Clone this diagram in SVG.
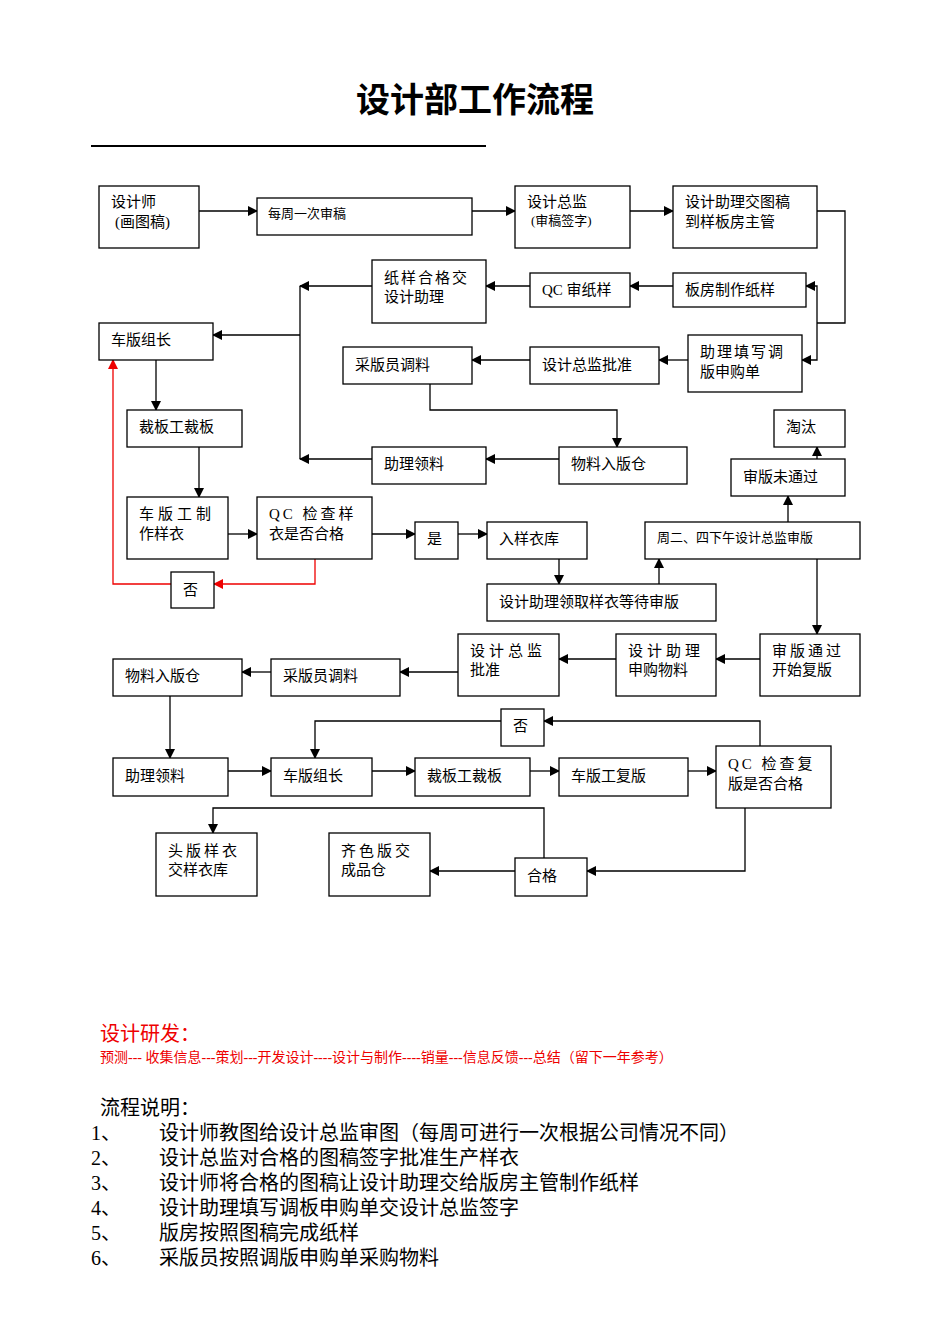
<svg xmlns="http://www.w3.org/2000/svg" width="950" height="1344" viewBox="0 0 950 1344">
<defs>
<marker id="a" markerWidth="10" markerHeight="10" refX="9" refY="5" orient="auto" markerUnits="userSpaceOnUse"><path d="M0,0 L10,5 L0,10 z" fill="#000"/></marker>
<marker id="r" markerWidth="10" markerHeight="10" refX="9" refY="5" orient="auto" markerUnits="userSpaceOnUse"><path d="M0,0 L10,5 L0,10 z" fill="#e00"/></marker>
</defs>
<style>
rect{fill:#fff;stroke:#000;stroke-width:1.3}
text{font-family:"Liberation Serif","Noto Sans CJK SC",serif;font-size:15px;fill:#000}
.s{font-size:13px}
.c{fill:none;stroke:#000;stroke-width:1.3}
.ca{fill:none;stroke:#000;stroke-width:1.3;marker-end:url(#a)}
.red{fill:none;stroke:#e00;stroke-width:1.3;marker-end:url(#r)}
.big{font-size:20px}
</style>
<rect x="0" y="0" width="950" height="1344" style="stroke:none"/>
<text x="475" y="112" text-anchor="middle" style="font-size:34px;font-weight:bold;font-family:'Noto Sans CJK SC',sans-serif">设计部工作流程</text>
<line x1="91" y1="146" x2="486" y2="146" stroke="#000" stroke-width="2"/>

<g id="connectors">
<path class="ca" d="M199,211 H257"/>
<path class="ca" d="M472,211 H515"/>
<path class="ca" d="M630,211 H673"/>
<path class="c" d="M817,211 H845 V323 H817"/>
<path class="ca" d="M817,323 V286 H806"/>
<path class="ca" d="M817,323 V360 H802"/>
<path class="ca" d="M673,286 H630"/>
<path class="ca" d="M530,286 H486"/>
<path class="ca" d="M372,286 H300"/>
<path class="c" d="M300,286 V459"/>
<path class="ca" d="M372,459 H300"/>
<path class="ca" d="M300,335 H213"/>
<path class="ca" d="M688,360 H659"/>
<path class="ca" d="M530,360 H472"/>
<path class="ca" d="M430,384 V410 H617 V447"/>
<path class="ca" d="M559,459 H486"/>
<path class="ca" d="M156,360 V410"/>
<path class="ca" d="M199,447 V497"/>
<path class="ca" d="M228,534 H257"/>
<path class="ca" d="M372,534 H415"/>
<path class="ca" d="M458,534 H487"/>
<path class="ca" d="M559,559 V584"/>
<path class="ca" d="M659,584 V559"/>
<path class="ca" d="M788,522 V496"/>
<path class="ca" d="M817,459 V447"/>
<path class="ca" d="M817,559 V634"/>
<path class="red" d="M315,559 V584 H214"/>
<path class="red" d="M171,584 H113 V360"/>
<path class="ca" d="M760,659 H716"/>
<path class="ca" d="M616,659 H559"/>
<path class="ca" d="M458,672 H400"/>
<path class="ca" d="M271,672 H242"/>
<path class="ca" d="M170,696 V758"/>
<path class="ca" d="M228,771 H271"/>
<path class="ca" d="M372,771 H415"/>
<path class="ca" d="M530,771 H559"/>
<path class="ca" d="M688,771 H716"/>
<path class="ca" d="M760,746 V721 H544"/>
<path class="ca" d="M501,721 H315 V758"/>
<path class="ca" d="M745,808 V871 H587"/>
<path class="ca" d="M515,871 H430"/>
<path class="ca" d="M544,858 V808 H213 V833"/>
</g>

<g id="n1"><rect x="99" y="186" width="100" height="62"/><text x="111" y="207">设计师</text><text x="115" y="227">(画图稿)</text></g>
<g id="n2"><rect x="257" y="198" width="215" height="37"/><text x="268" y="218" class="s">每周一次审稿</text></g>
<g id="n3"><rect x="515" y="186" width="115" height="62"/><text x="527" y="207">设计总监</text><text x="531" y="225" class="s">(审稿签字)</text></g>
<g id="n4"><rect x="673" y="186" width="144" height="62"/><text x="685" y="207">设计助理交图稿</text><text x="685" y="227">到样板房主管</text></g>
<g id="n5"><rect x="372" y="260" width="114" height="63"/><text x="384" y="283" letter-spacing="2">纸样合格交</text><text x="384" y="302">设计助理</text></g>
<g id="n6"><rect x="530" y="273" width="100" height="34"/><text x="542" y="295">QC 审纸样</text></g>
<g id="n7"><rect x="673" y="273" width="133" height="34"/><text x="685" y="295">板房制作纸样</text></g>
<g id="n8"><rect x="99" y="323" width="114" height="37"/><text x="111" y="345">车版组长</text></g>
<g id="n9"><rect x="688" y="335" width="114" height="57"/><text x="700" y="357" letter-spacing="2">助理填写调</text><text x="700" y="377">版申购单</text></g>
<g id="n10"><rect x="343" y="347" width="129" height="37"/><text x="355" y="370">采版员调料</text></g>
<g id="n11"><rect x="530" y="347" width="129" height="37"/><text x="542" y="370">设计总监批准</text></g>
<g id="n12"><rect x="774" y="410" width="71" height="37"/><text x="786" y="432">淘汰</text></g>
<g id="n13"><rect x="127" y="410" width="115" height="37"/><text x="139" y="432">裁板工裁板</text></g>
<g id="n14"><rect x="372" y="447" width="114" height="37"/><text x="384" y="469">助理领料</text></g>
<g id="n15"><rect x="559" y="447" width="128" height="37"/><text x="571" y="469">物料入版仓</text></g>
<g id="n16"><rect x="731" y="459" width="114" height="37"/><text x="743" y="482">审版未通过</text></g>
<g id="n17"><rect x="127" y="497" width="101" height="62"/><text x="139" y="519" letter-spacing="4">车版工制</text><text x="139" y="539">作样衣</text></g>
<g id="n18"><rect x="257" y="497" width="115" height="62"/><text x="269" y="519" letter-spacing="3">QC 检查样</text><text x="269" y="539">衣是否合格</text></g>
<g id="n19"><rect x="415" y="522" width="43" height="37"/><text x="427" y="544">是</text></g>
<g id="n20"><rect x="487" y="522" width="100" height="37"/><text x="499" y="544">入样衣库</text></g>
<g id="n21"><rect x="645" y="522" width="215" height="37"/><text x="657" y="542" class="s">周二、四下午设计总监审版</text></g>
<g id="n22"><rect x="171" y="572" width="43" height="36"/><text x="183" y="595">否</text></g>
<g id="n23"><rect x="487" y="584" width="229" height="37"/><text x="499" y="607">设计助理领取样衣等待审版</text></g>

<g id="n24"><rect x="458" y="634" width="101" height="62"/><text x="470" y="656" letter-spacing="4">设计总监</text><text x="470" y="675">批准</text></g>
<g id="n25"><rect x="616" y="634" width="100" height="62"/><text x="628" y="656" letter-spacing="4">设计助理</text><text x="628" y="675">申购物料</text></g>
<g id="n26"><rect x="760" y="634" width="100" height="62"/><text x="772" y="656" letter-spacing="3">审版通过</text><text x="772" y="675">开始复版</text></g>
<g id="n27"><rect x="113" y="659" width="129" height="37"/><text x="125" y="681">物料入版仓</text></g>
<g id="n28"><rect x="271" y="659" width="129" height="37"/><text x="283" y="681">采版员调料</text></g>
<g id="n29"><rect x="501" y="709" width="43" height="37"/><text x="513" y="731">否</text></g>
<g id="n30"><rect x="113" y="758" width="115" height="38"/><text x="125" y="781">助理领料</text></g>
<g id="n31"><rect x="271" y="758" width="101" height="38"/><text x="283" y="781">车版组长</text></g>
<g id="n32"><rect x="415" y="758" width="115" height="38"/><text x="427" y="781">裁板工裁板</text></g>
<g id="n33"><rect x="559" y="758" width="129" height="38"/><text x="571" y="781">车版工复版</text></g>
<g id="n34"><rect x="716" y="746" width="115" height="62"/><text x="728" y="769" letter-spacing="3">QC 检查复</text><text x="728" y="789">版是否合格</text></g>
<g id="n35"><rect x="156" y="833" width="101" height="63"/><text x="168" y="856" letter-spacing="3">头版样衣</text><text x="168" y="875">交样衣库</text></g>
<g id="n36"><rect x="329" y="833" width="101" height="63"/><text x="341" y="856" letter-spacing="3">齐色版交</text><text x="341" y="875">成品仓</text></g>
<g id="n37"><rect x="515" y="858" width="72" height="38"/><text x="527" y="881">合格</text></g>

<text x="100" y="1041" class="big" fill="#e00" style="fill:#e00">设计研发：</text>
<text x="100" y="1062" style="fill:#e00;font-size:14px">预测--- 收集信息---策划---开发设计----设计与制作----销量---信息反馈---总结（留下一年参考）</text>
<text x="100" y="1115" class="big">流程说明：</text>
<g class="big">
<text x="91" y="1140" class="big">1、</text><text x="159" y="1140" class="big">设计师教图给设计总监审图（每周可进行一次根据公司情况不同）</text>
<text x="91" y="1165" class="big">2、</text><text x="159" y="1165" class="big">设计总监对合格的图稿签字批准生产样衣</text>
<text x="91" y="1190" class="big">3、</text><text x="159" y="1190" class="big">设计师将合格的图稿让设计助理交给版房主管制作纸样</text>
<text x="91" y="1215" class="big">4、</text><text x="159" y="1215" class="big">设计助理填写调板申购单交设计总监签字</text>
<text x="91" y="1240" class="big">5、</text><text x="159" y="1240" class="big">版房按照图稿完成纸样</text>
<text x="91" y="1265" class="big">6、</text><text x="159" y="1265" class="big">采版员按照调版申购单采购物料</text>
</g>
</svg>
